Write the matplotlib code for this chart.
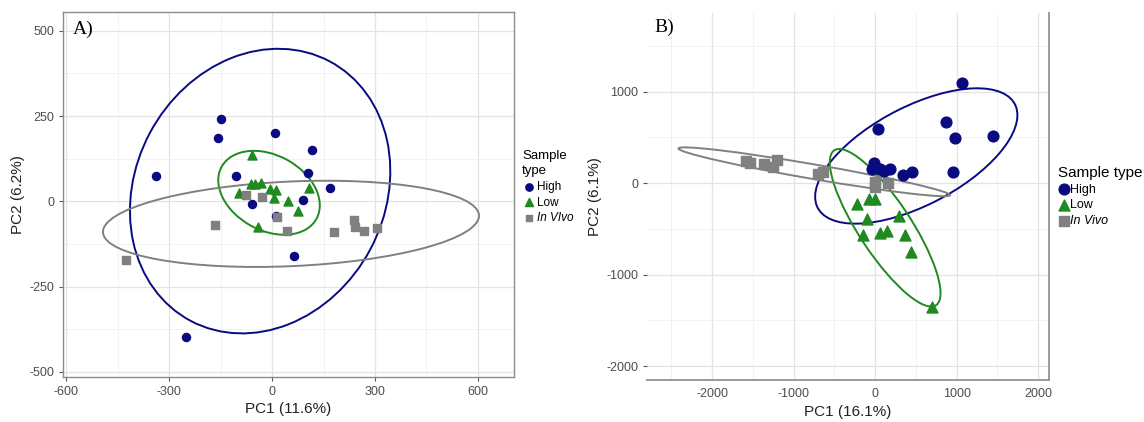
import matplotlib.pyplot as plt
from matplotlib.patches import Ellipse
from matplotlib.ticker import MultipleLocator

plt.rcParams["font.family"] = ["Liberation Sans", "DejaVu Sans"]
plt.rcParams["axes.unicode_minus"] = False

NAVY = "#0a0a80"
GREEN = "#1f8a1f"
GRAY = "#808080"

# panel A: PCA scores
a_high_x = [-149, -159, 8, 115, -106, 106, 168, 89, -60, 10, 65, -339, -252]
a_high_y = [241, 186, 200, 149, 74, 82, 38, 5, -9, -43, -159, 74, -398]
a_low_x = [-60, -96, -63, -50, -31, -5, 10, 5, 46, 75, 108, -40]
a_low_y = [135, 25, 50, 52, 54, 36, 33, 9, 2, -28, 40, -74]
a_vivo_x = [-425, -168, -77, -29, 14, 43, 181, 240, 242, 267, 306]
a_vivo_y = [-173, -69, 18, 12, -47, -86, -91, -54, -76, -86, -78]
# ellipses: centre x, centre y, semi-axis a, semi-axis b, angle (deg)
a_ell_high = [-35, 30, 431, 364, 62]
a_ell_low = [-9, 25, 158, 110, -29]
a_ell_vivo = [55, -66, 549, 124, 2.6]

# panel B: PCA scores
b_high_x = [1064, 41, 867, 985, 1444, 961, -20, -35, 60, 184, 347, 450, 110]
b_high_y = [1090, 587, 667, 492, 514, 117, 215, 150, 160, 160, 87, 117, 130]
b_low_x = [-225, -70, 0, -94, 298, -143, 61, 143, 368, 438, 695]
b_low_y = [-233, -175, -175, -386, -361, -561, -543, -521, -561, -751, -1352]
b_vivo_x = [-1580, -1540, -1370, -1250, -1200, -700, -640, 0, 0, 160]
b_vivo_y = [240, 220, 210, 180, 255, 100, 120, 10, -40, 0]
b_ell_high = [505, 297, 1337, 548, 24]
b_ell_low = [123, -487, 1052, 310, -53]
b_ell_vivo = [-747, 124, 1686, 80, -8.7]


def add_ellipse(ax, p, color):
    ax.add_patch(Ellipse((p[0], p[1]), 2 * p[2], 2 * p[3], angle=p[4],
                         fill=False, edgecolor=color, lw=1.4, zorder=2))


def style_grid(ax, major_x, major_y):
    ax.xaxis.set_major_locator(MultipleLocator(major_x))
    ax.yaxis.set_major_locator(MultipleLocator(major_y))
    ax.xaxis.set_minor_locator(MultipleLocator(major_x / 2))
    ax.yaxis.set_minor_locator(MultipleLocator(major_y / 2))
    ax.grid(which="major", color="#e3e3e3", lw=0.9, zorder=0)
    ax.grid(which="minor", color="#f0f0f0", lw=0.6, zorder=0)
    ax.set_axisbelow(True)
    ax.tick_params(which="minor", length=0)
    ax.tick_params(which="major", length=3, color="#555555",
                   labelcolor="#4d4d4d", labelsize=9, width=0.8)


fig = plt.figure(figsize=(11.44, 4.22), dpi=100)

# ---- panel A ----
ax1 = fig.add_axes([0.0551, 0.1066, 0.394, 0.865])
style_grid(ax1, 300, 250)
ax1.set_xlim(-610, 705)
ax1.set_ylim(-515, 555)
for sp in ax1.spines.values():
    sp.set_color("#8c8c8c")
    sp.set_linewidth(1.0)
add_ellipse(ax1, a_ell_high, NAVY)
add_ellipse(ax1, a_ell_low, GREEN)
add_ellipse(ax1, a_ell_vivo, GRAY)
ax1.scatter(a_high_x, a_high_y, marker="o", s=34, color=NAVY, zorder=3, label="High")
ax1.scatter(a_low_x, a_low_y, marker="^", s=42, color=GREEN, zorder=3, label="Low")
ax1.scatter(a_vivo_x, a_vivo_y, marker="s", s=30, color=GRAY, zorder=3, label="In VIvo")
ax1.set_xlabel("PC1 (11.6%)", fontsize=11, color="#222222", labelpad=3)
ax1.set_ylabel("PC2 (6.2%)", fontsize=11, color="#222222", labelpad=3)
ax1.text(0.022, 0.975, "A)", transform=ax1.transAxes, fontsize=14,
         family="Liberation Serif", va="top", ha="left")
leg1 = ax1.legend(title="Sample\ntype", loc="center left", bbox_to_anchor=(1.0, 0.52),
                  frameon=False, fontsize=8.5, title_fontsize=9.5, handletextpad=0.1,
                  labelspacing=0.3, borderpad=0.2, handlelength=1.2, markerscale=0.9)
leg1._legend_box.align = "left"
leg1.get_title().set_linespacing(1.35)
leg1.get_texts()[2].set_style("italic")

# ---- panel B ----
ax2 = fig.add_axes([0.5656, 0.0995, 0.3514, 0.870])
style_grid(ax2, 1000, 1000)
ax2.set_xlim(-2800, 2135)
ax2.set_ylim(-2150, 1860)
ax2.spines["top"].set_visible(False)
ax2.spines["left"].set_visible(False)
for side in ["bottom", "right"]:
    ax2.spines[side].set_color("#9a9a9a")
    ax2.spines[side].set_linewidth(1.4)
ax2.tick_params(axis="x", length=0, pad=6)
add_ellipse(ax2, b_ell_high, NAVY)
add_ellipse(ax2, b_ell_low, GREEN)
add_ellipse(ax2, b_ell_vivo, GRAY)
ax2.scatter(b_high_x, b_high_y, marker="o", s=60, color=NAVY, zorder=3, label="High")
ax2.scatter(b_low_x, b_low_y, marker="^", s=62, color=GREEN, zorder=3, label="Low")
ax2.scatter(b_vivo_x, b_vivo_y, marker="s", s=50, color=GRAY, zorder=3, label="In Vivo")
ax2.set_xlabel("PC1 (16.1%)", fontsize=11, color="#222222", labelpad=3)
ax2.set_ylabel("PC2 (6.1%)", fontsize=11, color="#222222", labelpad=3)
ax2.text(0.018, 0.985, "B)", transform=ax2.transAxes, fontsize=14,
         family="Liberation Serif", va="top", ha="left")
leg2 = ax2.legend(title="Sample type", loc="center left", bbox_to_anchor=(1.0, 0.5),
                  frameon=False, fontsize=9, title_fontsize=11, handletextpad=0.0,
                  labelspacing=0.3, borderpad=0.2, handlelength=1.0, markerscale=1.0)
leg2._legend_box.align = "left"
leg2.get_texts()[2].set_style("italic")

fig.savefig("out.png", dpi=100, facecolor="white")
